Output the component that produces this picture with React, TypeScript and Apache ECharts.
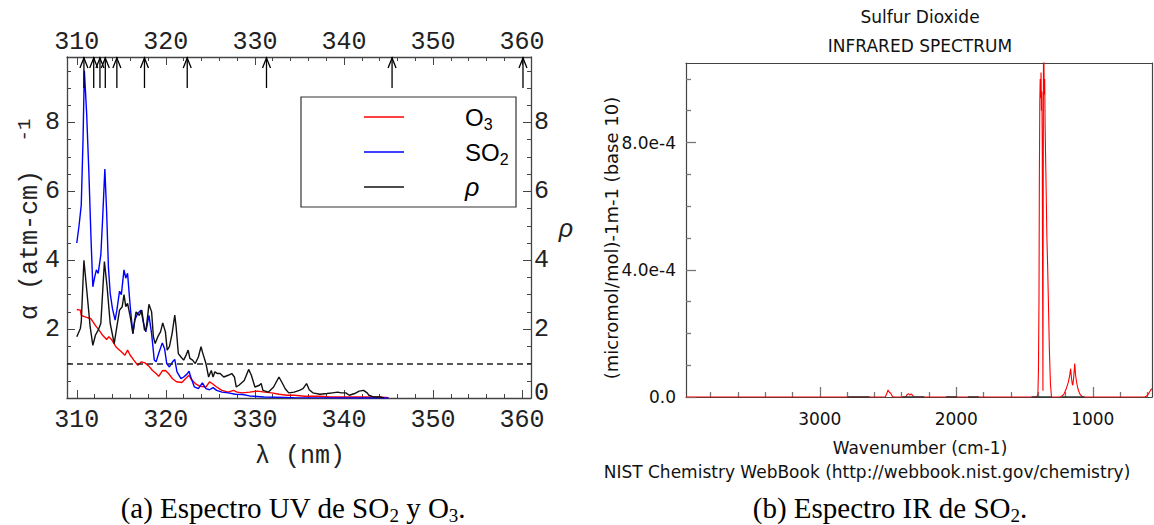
import React, { useEffect, useRef } from "react";
import * as echarts from "echarts";

// ---------- UV panel data ----------
const uvTickValues = [310, 320, 330, 340, 350, 360];
const uvMinorTickValues = [312, 314, 316, 318, 322, 324, 326, 328, 332, 334, 336, 338, 342, 344, 346, 348, 352, 354, 356, 358];
const uvYTickValues = [0, 2, 4, 6, 8];
const uvYLeftLabels = [2, 4, 6, 8];
const uvYMinorTickValues = [0.5, 1, 1.5, 2.5, 3, 3.5, 4.5, 5, 5.5, 6.5, 7, 7.5, 8.5, 9, 9.5];
const arrowLambda = [310.8, 311.9, 312.6, 313.2, 314.5, 317.6, 322.4, 331.3, 345.4, 360.1];
const thresholdRho = 1;

const so2Lambda = [310.0, 310.25, 310.5, 310.7, 310.85, 311.1, 311.35, 311.6, 311.8, 312.0, 312.2, 312.4, 312.7, 312.9, 313.15, 313.35, 313.55, 313.75, 314.0, 314.3, 314.5, 314.8, 315.0, 315.3, 315.5, 315.7, 316.0, 316.3, 316.5, 316.85, 317.2, 317.5, 317.75, 318.1, 318.4, 318.7, 318.9, 319.2, 319.6, 319.85, 320.1, 320.4, 320.75, 321.0, 321.25, 321.7, 322.0, 322.4, 322.6, 322.8, 323.2, 323.65, 324.1, 324.5, 324.9, 325.3, 325.7, 326.3, 327.0, 327.8, 328.6, 329.4, 331.0, 334.4, 338.5, 342.6, 345.0];
const so2Alpha = [4.5, 5.0, 5.6, 7.5, 9.5, 8.3, 6.6, 4.6, 3.23, 3.5, 3.72, 3.62, 4.16, 5.2, 6.65, 5.4, 3.8, 3.04, 2.6, 2.26, 2.55, 3.1, 3.0, 3.72, 3.48, 3.62, 2.65, 1.87, 2.26, 2.46, 2.55, 2.17, 1.92, 2.4, 1.87, 1.1, 1.05, 1.3, 1.6, 1.44, 1.0, 0.9, 1.05, 1.12, 0.76, 0.56, 0.61, 0.7, 0.78, 0.61, 0.32, 0.27, 0.44, 0.27, 0.24, 0.3, 0.22, 0.17, 0.15, 0.11, 0.1, 0.06, 0.03, 0.01, 0.005, 0, 0];

const o3Lambda = [310.0, 310.4, 310.5, 311.1, 311.6, 312.1, 312.5, 312.9, 313.35, 313.6, 313.95, 314.4, 315.0, 315.4, 315.7, 316.0, 316.4, 316.85, 317.25, 317.65, 318.1, 318.5, 318.9, 319.2, 319.6, 319.95, 320.3, 320.75, 321.2, 321.8, 322.2, 322.6, 322.8, 323.3, 323.85, 324.5, 324.9, 325.2, 325.7, 326.3, 327.0, 327.6, 328.0, 328.6, 329.4, 330.3, 331.1, 331.9, 332.7, 333.6, 334.4, 335.6, 337.3, 338.5, 340.6, 342.6, 343.9, 345.0];
const o3Alpha = [2.57, 2.55, 2.4, 2.34, 2.3, 2.1, 1.97, 1.82, 1.7, 1.78, 1.68, 1.48, 1.34, 1.24, 1.39, 1.24, 1.1, 0.95, 1.05, 1.02, 0.92, 0.8, 0.71, 0.63, 0.79, 0.8, 0.71, 0.56, 0.47, 0.45, 0.56, 0.66, 0.56, 0.42, 0.34, 0.32, 0.47, 0.42, 0.32, 0.22, 0.17, 0.22, 0.17, 0.15, 0.17, 0.2, 0.17, 0.15, 0.11, 0.08, 0.08, 0.05, 0.05, 0.03, 0.03, 0.03, 0.03, 0.01];

const rhoLambda = [310.0, 310.4, 310.5, 310.8, 311.15, 311.5, 311.8, 312.1, 312.4, 312.7, 313.1, 313.4, 313.75, 314.2, 314.5, 314.8, 315.1, 315.3, 315.5, 315.7, 316.0, 316.3, 316.65, 317.0, 317.3, 317.6, 317.8, 318.1, 318.4, 318.6, 318.8, 319.1, 319.4, 319.65, 319.95, 320.15, 320.4, 320.7, 321.0, 321.15, 321.4, 321.7, 322.0, 322.3, 322.5, 322.7, 323.0, 323.3, 323.65, 323.95, 324.1, 324.5, 324.8, 325.1, 325.3, 325.5, 325.8, 326.1, 326.5, 327.0, 327.4, 327.7, 327.9, 328.2, 328.8, 329.3, 329.6, 330.0, 330.5, 330.7, 330.9, 331.5, 332.1, 332.7, 333.1, 333.4, 333.8, 334.4, 335.0, 335.4, 335.8, 336.1, 336.5, 337.3, 338.1, 338.7, 339.3, 339.7, 340.2, 340.6, 341.2, 341.7, 342.2, 342.6, 342.8, 343.3, 344.1, 344.5];
const rhoValue = [1.78, 2.02, 2.2, 4.0, 3.04, 2.07, 1.53, 1.83, 1.97, 2.17, 3.96, 3.23, 2.17, 1.58, 2.07, 2.55, 2.65, 3.0, 2.65, 2.75, 2.36, 1.87, 2.5, 2.4, 2.55, 1.97, 2.02, 2.72, 2.5, 1.78, 1.58, 1.78, 1.92, 2.18, 1.92, 1.39, 1.49, 1.87, 2.41, 2.07, 1.29, 1.19, 1.1, 1.26, 1.39, 1.15, 1.1, 1.0, 1.19, 1.49, 1.34, 1.0, 0.61, 0.8, 0.61, 0.76, 0.71, 0.71, 0.61, 0.66, 0.71, 0.61, 0.32, 0.37, 0.51, 0.83, 0.66, 0.32, 0.37, 0.42, 0.22, 0.17, 0.32, 0.61, 0.42, 0.27, 0.15, 0.17, 0.22, 0.27, 0.42, 0.24, 0.15, 0.11, 0.13, 0.15, 0.17, 0.15, 0.15, 0.08, 0.13, 0.2, 0.22, 0.15, 0.08, 0.03, 0.03, 0];

// ---------- IR panel data ----------
const irTickValues = [3000, 2000, 1000];
const irMinorTickValues = [3800, 3600, 3400, 3200, 2800, 2600, 2400, 2200, 1800, 1600, 1400, 1200, 800, 600];
const irYTickValues = [0, 0.0004, 0.0008];
const irYMinorTickValues = [0.0001, 0.0002, 0.0003, 0.0005, 0.0006, 0.0007, 0.0009, 0.001];

const irWavenumber = [3980, 2520, 2510, 2500, 2490, 2480, 2470, 2460, 2370, 2360, 2350, 2340, 2330, 2320, 2310,
  1410, 1402, 1398, 1394, 1391, 1388, 1385, 1382, 1379, 1376, 1373, 1370, 1367, 1365, 1363, 1361, 1358, 1355, 1352, 1349, 1345, 1341, 1336, 1331, 1325, 1318, 1310, 1302,
  1240, 1225, 1210, 1195, 1180, 1170, 1162, 1156, 1150, 1146, 1140, 1132, 1126, 1118, 1108, 1095, 1080, 1070,
  620, 605, 595, 585, 575, 566];
const irAbsorbance = [0, 0, 0.000010, 0.000022, 0.000015, 0.000012, 0.000003, 0, 0, 0.000008, 0.000010, 0.000006, 0.000010, 0.000005, 0,
  0, 0.00001, 0.00008, 0.0003, 0.0007, 0.00093, 0.001, 0.00094, 0.00102, 0.0009, 0.00096, 0.0008, 0.0003, 0.00002, 0.0006, 0.0011, 0.00106, 0.00095, 0.001, 0.00085, 0.00074, 0.00064, 0.0005, 0.00042, 0.0003, 0.00015, 0.00004, 0,
  0, 0.000003, 0.00001, 0.000025, 0.000045, 0.000065, 0.000089, 0.00006, 0.00004, 0.000037, 0.00006, 0.000105, 0.00007, 0.000045, 0.000025, 0.00001, 0.000002, 0,
  0, 0.000003, 0.000008, 0.000015, 0.000022, 0.000026];
const irBlackSegments = [[2795, 2635], [2395, 2235], [2075, 1995], [1915, 1835], [1448, 1301], [1227, 1061]];

const UV_XMIN = 308.9, UV_XMAX = 361.0, UV_YMAX = 9.9, ARROW_BASE = 9.0;
const IR_XMIN = 566, IR_XMAX = 3980, IR_YMAX = 0.00105;

const MONO = "'Liberation Mono', 'DejaVu Sans Mono', monospace";
const SANS = "'DejaVu Sans', sans-serif";
const SERIF = "'Liberation Serif', 'DejaVu Serif', serif";
const FRAME = "#444";

function zip(xs: number[], ys: number[]) {
  return xs.map((x, i) => [x, ys[i]]);
}

export default function App() {
  const ref = useRef<HTMLDivElement>(null);
  useEffect(() => {
    if (!ref.current) return;
    const chart = echarts.init(ref.current, undefined, { renderer: "svg" });

    const uvMajorX = (position: string, showLabel: boolean) => ({
      type: "value", gridIndex: 0, position, min: UV_XMIN, max: UV_XMAX,
      axisLine: { show: true, onZero: false, lineStyle: { color: FRAME, width: 1.3 } },
      axisTick: { show: true, inside: true, length: 8, customValues: uvTickValues, lineStyle: { color: FRAME } },
      axisLabel: { show: showLabel, customValues: uvTickValues, fontFamily: MONO, fontSize: 25, lineHeight: 18, color: "#222", margin: position === "top" ? 6 : 13 },
      splitLine: { show: false },
    });
    const uvMinorX = (position: string) => ({
      type: "value", gridIndex: 0, position, min: UV_XMIN, max: UV_XMAX,
      axisLine: { show: false, onZero: false },
      axisTick: { show: true, inside: true, length: 4, customValues: uvMinorTickValues, lineStyle: { color: FRAME } },
      axisLabel: { show: false }, splitLine: { show: false },
    });
    const uvMajorY = (position: string, labels: number[]) => ({
      type: "value", gridIndex: 0, position, min: 0, max: UV_YMAX,
      axisLine: { show: true, onZero: false, lineStyle: { color: FRAME, width: 1.3 } },
      axisTick: { show: true, inside: true, length: 8, customValues: uvYTickValues, lineStyle: { color: FRAME } },
      axisLabel: {
        show: true, customValues: labels, fontFamily: MONO, fontSize: 25, lineHeight: 16, color: "#222", margin: position === "left" ? 7 : 3,
        formatter: (v: number) => (v === 0 ? "{z|0}" : String(v)),
        rich: { z: { fontFamily: MONO, fontSize: 25, lineHeight: 16, color: "#222", padding: [0, 0, 9, 0] } },
      },
      splitLine: { show: false },
    });
    const uvMinorY = (position: string) => ({
      type: "value", gridIndex: 0, position, min: 0, max: UV_YMAX,
      axisLine: { show: false, onZero: false },
      axisTick: { show: true, inside: true, length: 4, customValues: uvYMinorTickValues, lineStyle: { color: FRAME } },
      axisLabel: { show: false }, splitLine: { show: false },
    });

    const irX = (position: string, ticks: number[] | null, len: number, showLine: boolean, showLabel: boolean) => ({
      type: "value", gridIndex: 1, position, min: IR_XMIN, max: IR_XMAX, inverse: true,
      axisLine: { show: showLine, onZero: false, lineStyle: { color: FRAME, width: 1.2 } },
      axisTick: ticks ? { show: true, inside: true, length: len, customValues: ticks, lineStyle: { color: "#777", width: 1.3 } } : { show: false },
      axisLabel: showLabel ? {
        show: true, customValues: irTickValues, fontFamily: SANS, fontSize: 17, color: "#111", margin: 13,
        formatter: (v: number) => String(v),
      } : { show: false },
      splitLine: { show: false },
    });
    const irY = (position: string, ticks: number[] | null, len: number, showLine: boolean, showLabel: boolean) => ({
      type: "value", gridIndex: 1, position, min: 0, max: IR_YMAX,
      axisLine: { show: showLine, onZero: false, lineStyle: { color: FRAME, width: 1.2 } },
      axisTick: ticks ? { show: true, inside: true, length: len, customValues: ticks, lineStyle: { color: "#777", width: 1.3 } } : { show: false },
      axisLabel: showLabel ? {
        show: true, customValues: irYTickValues, fontFamily: SANS, fontSize: 17, color: "#111", margin: 10,
        formatter: (v: number) => (v === 0 ? "0.0" : v.toExponential(1)),
      } : { show: false },
      splitLine: { show: false },
    });

    const blackData: any[] = [];
    irBlackSegments.forEach(([a, b]) => {
      blackData.push([a, 0], [b, 0], [b - 1, "-"]);
    });

    const subRich = {
      m: { fontFamily: "'Liberation Sans', sans-serif", fontSize: 24, color: "#222", lineHeight: 30, verticalAlign: "middle" },
      s: { fontFamily: "'Liberation Sans', sans-serif", fontSize: 16, color: "#222", lineHeight: 30, verticalAlign: "bottom" },
      r: { fontFamily: "'Liberation Sans', sans-serif", fontSize: 25, fontStyle: "italic", color: "#222", lineHeight: 30, verticalAlign: "middle" },
    };
    const capRich = {
      m: { fontFamily: SERIF, fontSize: 29, color: "#111", lineHeight: 34, verticalAlign: "middle" },
      s: { fontFamily: SERIF, fontSize: 19, color: "#111", lineHeight: 28, verticalAlign: "bottom" },
    };

    const legendRows = [
      { y: 117, color: "#ff0000", text: "{m|O}{s|3}" },
      { y: 152, color: "#0000ff", text: "{m|SO}{s|2}" },
      { y: 187, color: "#111111", text: "{r|ρ}" },
    ];

    chart.setOption({
      animation: false,
      backgroundColor: "#ffffff",
      grid: [
        { left: 67, right: 1154 - 531, top: 57, bottom: 525 - 398, containLabel: false },
        { left: 686, right: 2, top: 63, bottom: 525 - 397, containLabel: false },
      ],
      xAxis: [
        uvMajorX("bottom", true), uvMinorX("bottom"), uvMajorX("top", true), uvMinorX("top"),
        irX("bottom", irTickValues, 10, true, true), irX("bottom", irMinorTickValues, 5, false, false), irX("top", null, 0, true, false),
      ],
      yAxis: [
        uvMajorY("left", uvYLeftLabels), uvMinorY("left"), uvMajorY("right", uvYTickValues), uvMinorY("right"),
        irY("left", irYTickValues, 10, true, true), irY("left", irYMinorTickValues, 5, false, false), irY("right", null, 0, true, false),
      ],
      series: [
        {
          name: "O3", type: "line", xAxisIndex: 0, yAxisIndex: 0, data: zip(o3Lambda, o3Alpha),
          showSymbol: false, lineStyle: { color: "#ff0000", width: 1.4 }, z: 3,
        },
        {
          name: "SO2", type: "line", xAxisIndex: 0, yAxisIndex: 0, data: zip(so2Lambda, so2Alpha),
          showSymbol: false, lineStyle: { color: "#0000ff", width: 1.4 }, z: 4,
        },
        {
          name: "ρ", type: "line", xAxisIndex: 0, yAxisIndex: 2, data: zip(rhoLambda, rhoValue),
          showSymbol: false, lineStyle: { color: "#111", width: 1.4 }, z: 5,
          markLine: {
            silent: true, symbol: ["none", "none"], label: { show: false },
            lineStyle: { type: [6, 4], color: "#222", width: 1.5 },
            data: [{ yAxis: thresholdRho }],
          },
        },
        {
          name: "arrows", type: "custom", xAxisIndex: 0, yAxisIndex: 0,
          data: arrowLambda.map((x) => [x, ARROW_BASE]),
          renderItem: (params: any, api: any) => {
            const x = api.value(0);
            const top = api.coord([x, UV_YMAX]);
            const bot = api.coord([x, api.value(1)]);
            return {
              type: "group",
              children: [
                { type: "line", shape: { x1: top[0], y1: top[1], x2: bot[0], y2: bot[1] }, style: { stroke: "#000", lineWidth: 1.3 } },
                { type: "polyline", shape: { points: [[top[0] - 4, top[1] + 11], [top[0], top[1] + 1], [top[0] + 4, top[1] + 11]] }, style: { stroke: "#000", lineWidth: 1.3, fill: null } },
              ],
            };
          },
          z: 6,
        },
        {
          name: "IR absorbance", type: "line", xAxisIndex: 4, yAxisIndex: 4, data: zip(irWavenumber, irAbsorbance),
          showSymbol: false, lineStyle: { color: "#ff0000", width: 1.1 }, z: 3,
        },
        {
          name: "IR baseline", type: "line", xAxisIndex: 4, yAxisIndex: 4, data: blackData,
          showSymbol: false, connectNulls: false, lineStyle: { color: "#333", width: 1.6 }, z: 4,
        },
      ],
      graphic: [
        // UV axis names
        { type: "text", x: 30, y: 245, rotation: Math.PI / 2, style: { text: "α (atm-cm)", font: `25px ${MONO}`, fill: "#222", align: "center", verticalAlign: "middle" } },
        { type: "text", x: 25, y: 130, rotation: Math.PI / 2, style: { text: "-1", font: `19px ${MONO}`, fill: "#222", align: "center", verticalAlign: "middle" } },
        { type: "text", x: 300, y: 456, style: { text: "λ (nm)", font: `25px ${MONO}`, fill: "#222", align: "center", verticalAlign: "middle" } },
        { type: "text", x: 566, y: 228, style: { text: "ρ", font: `italic 25px 'Liberation Sans', sans-serif`, fill: "#222", align: "center", verticalAlign: "middle" } },
        // legend
        { type: "rect", shape: { x: 301, y: 97, width: 215, height: 110 }, style: { fill: "#fff", stroke: "#333", lineWidth: 1.2 }, z: 10 },
        ...legendRows.flatMap((r) => [
          { type: "line", shape: { x1: 364, y1: r.y, x2: 404, y2: r.y }, style: { stroke: r.color, lineWidth: 1.5 }, z: 11 },
          { type: "text", x: 465, y: r.y, style: { text: r.text, rich: subRich, align: "left", verticalAlign: "middle" }, z: 11 },
        ]),
        // IR texts
        { type: "text", x: 920, y: 17, style: { text: "Sulfur Dioxide", font: `17px ${SANS}`, fill: "#111", align: "center", verticalAlign: "middle" } },
        { type: "text", x: 920, y: 46, style: { text: "INFRARED SPECTRUM", font: `17px ${SANS}`, fill: "#111", align: "center", verticalAlign: "middle" } },
        { type: "text", x: 611, y: 238, rotation: Math.PI / 2, style: { text: "(micromol/mol)-1m-1 (base 10)", font: `18px ${SANS}`, fill: "#111", align: "center", verticalAlign: "middle" } },
        { type: "text", x: 920, y: 448, style: { text: "Wavenumber (cm-1)", font: `17px ${SANS}`, fill: "#111", align: "center", verticalAlign: "middle" } },
        { type: "text", x: 867, y: 472, style: { text: "NIST Chemistry WebBook (http://webbook.nist.gov/chemistry)", font: `17px ${SANS}`, fill: "#111", align: "center", verticalAlign: "middle" } },
        // captions
        { type: "text", x: 293, y: 508, style: { text: "{m|(a) Espectro UV de SO}{s|2}{m| y O}{s|3}{m|.}", rich: capRich, align: "center", verticalAlign: "middle" } },
        { type: "text", x: 890, y: 508, style: { text: "{m|(b) Espectro IR de SO}{s|2}{m|.}", rich: capRich, align: "center", verticalAlign: "middle" } },
      ],
    });
    return () => chart.dispose();
  }, []);
  return <div ref={ref} style={{ position: "fixed", left: 0, top: 0, width: 1154, height: 525, background: "#fff" }} />;
}
